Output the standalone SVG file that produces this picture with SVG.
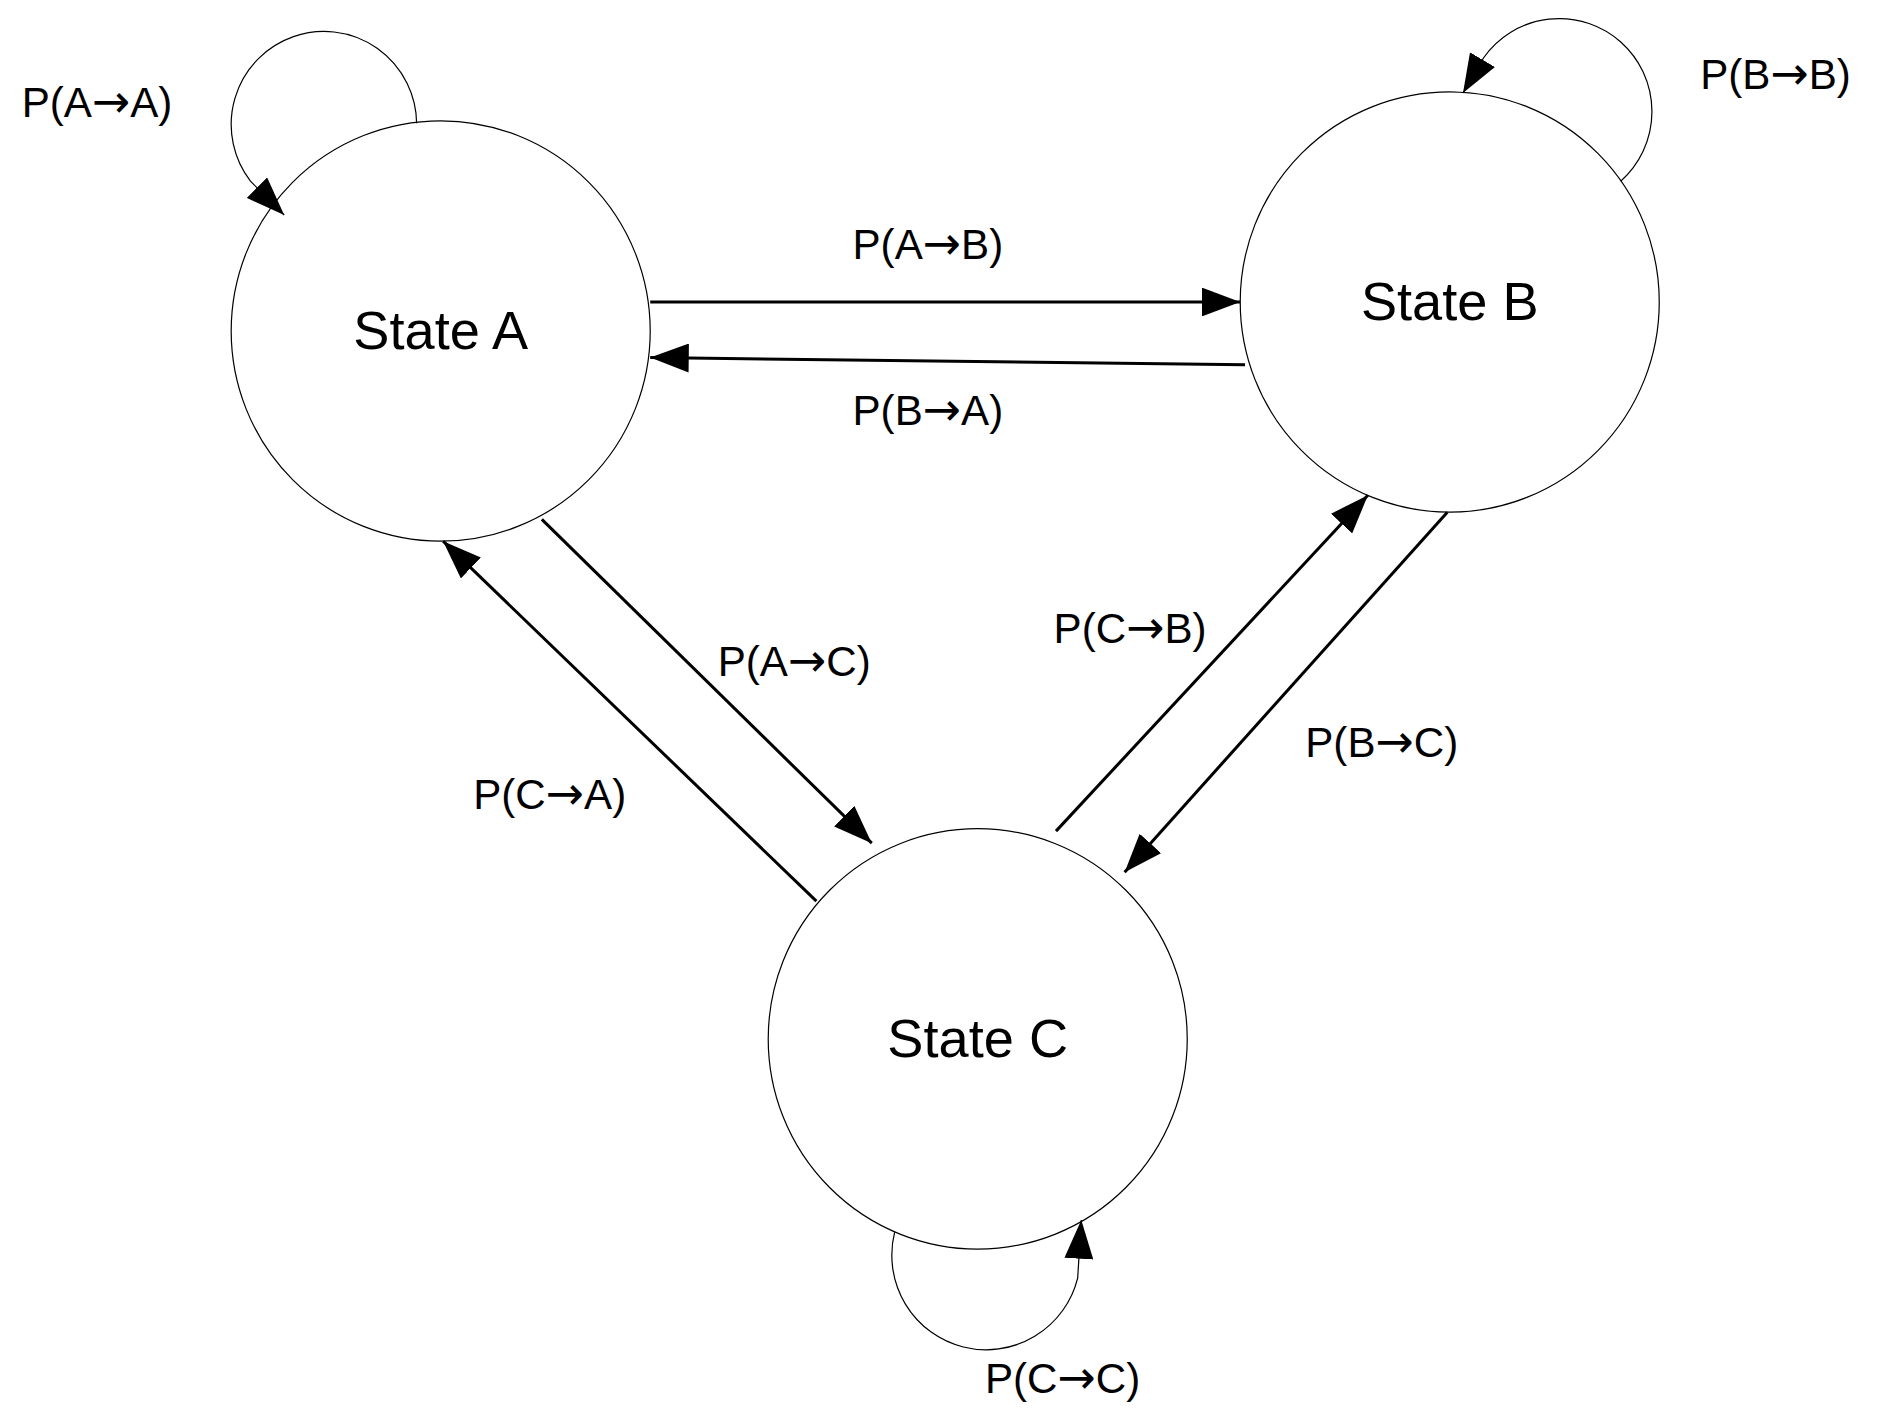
<svg xmlns="http://www.w3.org/2000/svg" width="1888" height="1423" viewBox="0 0 1888 1423">
<style>
.node{fill:#fff;stroke:#000;stroke-width:1}
.e{fill:none;stroke:#000;stroke-width:2.5}
.l{fill:none;stroke:#000;stroke-width:1}
text{font-family:"Liberation Sans",Arial,sans-serif;fill:#000}
.lb{font-size:35px}
.ar{font-family:"DejaVu Sans",sans-serif;font-size:38px}
.st{font-size:45px;text-anchor:middle}
</style>
<defs>
<marker id="ah" markerUnits="userSpaceOnUse" markerWidth="34" markerHeight="24" refX="32" refY="12" orient="auto">
<path d="M0,0 L32,12 L0,24 Z" fill="#000"/>
</marker>
</defs>
<rect width="1888" height="1423" fill="#fff"/>
<g transform="scale(1.2041,1.208)">
<g id="stateA"><circle class="node" cx="366" cy="274" r="174"/><text class="st" x="366" y="289">State A</text></g>
<g id="stateB"><circle class="node" cx="1204" cy="250" r="174"/><text class="st" x="1204" y="265">State B</text></g>
<g id="stateC"><circle class="node" cx="812" cy="860" r="174"/><text class="st" x="812" y="875">State C</text></g>
<g id="connectors">
<line class="e" x1="540" y1="250" x2="1030" y2="250" marker-end="url(#ah)"/>
<line class="e" x1="1034" y1="302" x2="540" y2="296" marker-end="url(#ah)"/>
<line class="e" x1="450" y1="430" x2="724" y2="698" marker-end="url(#ah)"/>
<line class="e" x1="678" y1="746" x2="368" y2="448" marker-end="url(#ah)"/>
<line class="e" x1="877" y1="688" x2="1136" y2="410" marker-end="url(#ah)"/>
<line class="e" x1="1202" y1="424" x2="934" y2="722" marker-end="url(#ah)"/>
<path class="l" d="M346,102 A77,77 0 1 0 208,150 L236,178" marker-end="url(#ah)"/>
<path class="l" d="M1346,150 A77,77 0 1 0 1232,48 L1215,77" marker-end="url(#ah)"/>
<path class="l" d="M743,1020 A77,77 0 1 0 895,1058 L898,1010" marker-end="url(#ah)"/>
</g>
<g id="labels" class="lb">
<text class="lb" x="18" y="97">P(A<tspan class="ar">→</tspan>A)</text>
<text class="lb" x="1412" y="74">P(B<tspan class="ar">→</tspan>B)</text>
<text class="lb" x="708" y="214">P(A<tspan class="ar">→</tspan>B)</text>
<text class="lb" x="708" y="352">P(B<tspan class="ar">→</tspan>A)</text>
<text class="lb" x="596" y="560">P(A<tspan class="ar">→</tspan>C)</text>
<text class="lb" x="393" y="670">P(C<tspan class="ar">→</tspan>A)</text>
<text class="lb" x="875" y="532">P(C<tspan class="ar">→</tspan>B)</text>
<text class="lb" x="1084" y="627">P(B<tspan class="ar">→</tspan>C)</text>
<text class="lb" x="818" y="1153">P(C<tspan class="ar">→</tspan>C)</text>
</g>
</g>
</svg>
